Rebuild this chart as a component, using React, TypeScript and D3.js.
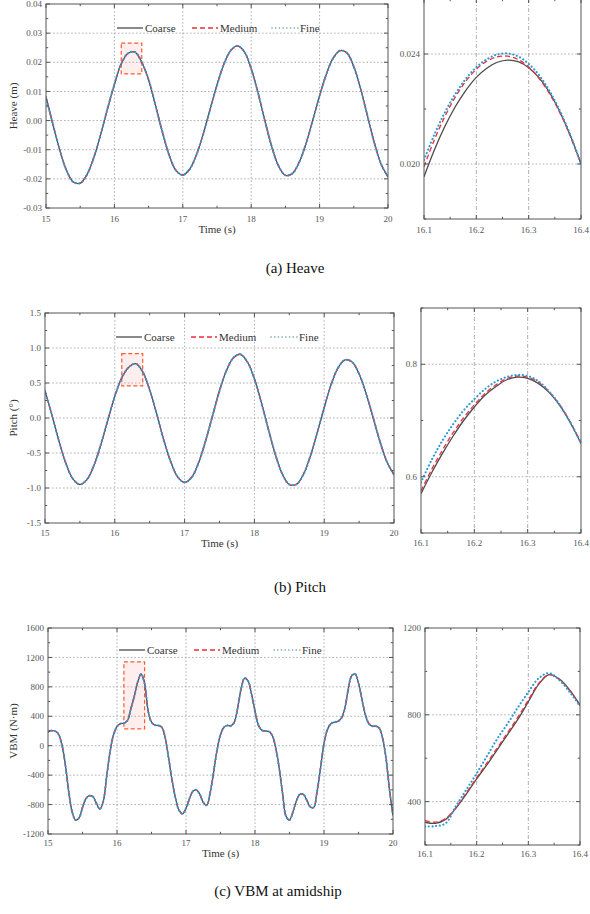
import React from "react";
import * as d3 from "d3";

const FONT = "'Liberation Serif','Times New Roman',serif";

// ---------------- data ----------------
const timeMain = [
  15.0, 15.1, 15.2, 15.3, 15.4, 15.5, 15.6, 15.7, 15.8, 15.9,
  16.0, 16.1, 16.2, 16.3, 16.4, 16.5, 16.6, 16.7, 16.8, 16.9,
  17.0, 17.1, 17.2, 17.3, 17.4, 17.5, 17.6, 17.7, 17.8, 17.9,
  18.0, 18.1, 18.2, 18.3, 18.4, 18.5, 18.6, 18.7, 18.8, 18.9,
  19.0, 19.1, 19.2, 19.3, 19.4, 19.5, 19.6, 19.7, 19.8, 19.9, 20.0,
];

const heaveCoarse = [
  0.0081, -0.0012, -0.0100, -0.0171, -0.0211, -0.0215, -0.0185, -0.0126, -0.0047, 0.0041,
  0.0124, 0.0195, 0.0231, 0.0235, 0.0200, 0.0140, 0.0053, -0.0038, -0.0118, -0.0171,
  -0.0187, -0.0167, -0.0117, -0.0045, 0.0039, 0.0122, 0.0193, 0.0240, 0.0256, 0.0236,
  0.0178, 0.0095, 0.0000, -0.0089, -0.0156, -0.0188, -0.0182, -0.0144, -0.0080, 0.0001,
  0.0085, 0.0160, 0.0215, 0.0240, 0.0232, 0.0185, 0.0109, 0.0016, -0.0076, -0.0150, -0.0193,
];

const pitchCoarse = [
  0.39, 0.04, -0.33, -0.65, -0.87, -0.95, -0.88, -0.68, -0.38, -0.03,
  0.31, 0.575, 0.725, 0.776, 0.659, 0.40, 0.06, -0.31, -0.62, -0.84,
  -0.92, -0.85, -0.64, -0.33, 0.03, 0.39, 0.68, 0.86, 0.91, 0.80,
  0.56, 0.22, -0.16, -0.52, -0.80, -0.95, -0.95, -0.81, -0.55, -0.21,
  0.15, 0.48, 0.72, 0.83, 0.80, 0.63, 0.35, 0.01, -0.34, -0.63, -0.81,
];

const timeVBM = [
  15.0, 15.05, 15.1, 15.15, 15.2, 15.25, 15.3, 15.35, 15.4, 15.45,
  15.5, 15.55, 15.6, 15.65, 15.7, 15.75, 15.8, 15.85, 15.9, 15.95,
  16.0, 16.05, 16.1, 16.15, 16.2, 16.25, 16.3, 16.35, 16.4, 16.45,
  16.5, 16.55, 16.6, 16.65, 16.7, 16.75, 16.8, 16.85, 16.9, 16.95,
  17.0, 17.05, 17.1, 17.15, 17.2, 17.25, 17.3, 17.35, 17.4, 17.45,
  17.5, 17.55, 17.6, 17.65, 17.7, 17.75, 17.8, 17.85, 17.9, 17.95,
  18.0, 18.05, 18.1, 18.15, 18.2, 18.25, 18.3, 18.35, 18.4, 18.45,
  18.5, 18.55, 18.6, 18.65, 18.7, 18.75, 18.8, 18.85, 18.9, 18.95,
  19.0, 19.05, 19.1, 19.15, 19.2, 19.25, 19.3, 19.35, 19.4, 19.45,
  19.5, 19.55, 19.6, 19.65, 19.7, 19.75, 19.8, 19.85, 19.9, 19.95, 20.0,
];

const vbmCoarse = [
  190, 205, 200, 160, 20, -250, -620, -900, -1010, -980,
  -840, -720, -680, -690, -780, -860, -760, -420, -80, 150,
  260, 300, 305, 340, 500, 670, 865, 975, 845, 480,
  320, 280, 275, 250, 100, -180, -480, -720, -880, -925,
  -850, -720, -620, -600, -660, -770, -810, -640, -360, -60,
  150, 250, 275, 270, 320, 520, 780, 920, 880, 700,
  470, 280, 210, 200, 195, 140, -30, -300, -650, -960,
  -1010, -900, -750, -660, -660, -740, -830, -840, -620, -300,
  30, 220, 300, 320, 330, 370, 500, 760, 950, 975,
  850, 630, 420, 300, 265, 265, 240, 100, -180, -600, -950,
];

const timeZoom = [
  16.1, 16.12, 16.14, 16.16, 16.18, 16.2, 16.22, 16.24,
  16.26, 16.28, 16.3, 16.32, 16.34, 16.36, 16.38, 16.4,
];

const heaveZoomCoarse = [
  0.01954, 0.02052, 0.02137, 0.02209, 0.02268, 0.02315, 0.02348, 0.0237,
  0.02378, 0.02372, 0.0235, 0.02313, 0.02259, 0.02188, 0.02102, 0.02,
];
const heaveZoomMedium = [
  0.0199, 0.02089, 0.02173, 0.02244, 0.02301, 0.02345, 0.02374, 0.0239,
  0.02392, 0.0238, 0.02353, 0.02311, 0.02255, 0.02185, 0.02099, 0.02,
];
const heaveZoomFine = [
  0.02015, 0.02108, 0.02188, 0.02255, 0.0231, 0.02352, 0.02381, 0.02398,
  0.02402, 0.02391, 0.02364, 0.02323, 0.02265, 0.02192, 0.02104, 0.02,
];

const pitchZoomCoarse = [
  0.57, 0.607, 0.641, 0.672, 0.7, 0.724, 0.745, 0.76,
  0.772, 0.777, 0.775, 0.766, 0.75, 0.727, 0.696, 0.659,
];
const pitchZoomMedium = [
  0.575, 0.613, 0.647, 0.678, 0.705, 0.728, 0.748, 0.763,
  0.774, 0.779, 0.777, 0.768, 0.751, 0.728, 0.697, 0.66,
];
const pitchZoomFine = [
  0.59, 0.63, 0.664, 0.693, 0.718, 0.738, 0.756, 0.769,
  0.777, 0.781, 0.779, 0.77, 0.752, 0.728, 0.697, 0.66,
];

const vbmZoomCoarse = [
  305, 300, 318, 370, 435, 505, 570, 640,
  710, 780, 860, 940, 985, 965, 915, 845,
];
const vbmZoomMedium = [
  312, 305, 322, 372, 440, 510, 578, 648,
  718, 790, 868, 945, 985, 962, 912, 842,
];
const vbmZoomFine = [
  285, 287, 300, 380, 455, 530, 610, 690,
  760, 835, 905, 968, 992, 960, 905, 840,
];

const mainXTicks = [15, 16, 17, 18, 19, 20];
const heaveYTicks = [-0.03, -0.02, -0.01, 0, 0.01, 0.02, 0.03, 0.04];
const pitchYTicks = [-1.5, -1.0, -0.5, 0, 0.5, 1.0, 1.5];
const vbmYTicks = [-1200, -800, -400, 0, 400, 800, 1200, 1600];
const zoomXTicks = [16.1, 16.2, 16.3, 16.4];
const heaveZoomYTicks = [0.02, 0.024];
const pitchZoomYTicks = [0.6, 0.8];
const vbmZoomYTicks = [400, 800, 1200];

const seriesNames = ["Coarse", "Medium", "Fine"];
const yTitles = ["Heave (m)", "Pitch (°)", "VBM (N·m)"];
const xTitle = "Time (s)";
const captions = ["(a) Heave", "(b) Pitch", "(c) VBM at amidship"];

// highlight boxes in the main panels: [t0, t1, v0, v1]
const heaveBox = [16.1, 16.4, 0.016, 0.0266];
const pitchBox = [16.1, 16.4, 0.46, 0.92];
const vbmBox = [16.1, 16.4, 230, 1140];

// ---------------- styles ----------------
const STYLES = [
  { stroke: "#4b4b4b", width: 1.3, dash: undefined as string | undefined, cap: "butt" },
  { stroke: "#ef2d3e", width: 1.3, dash: "5,3", cap: "butt" },
  { stroke: "#2a9bd0", width: 2.1, dash: "0.1,3.6", cap: "round" },
];

const fmt = (f: string) => (v: number) => d3.format(f)(v).replace("−", "-");

function Panel(p: any) {
  const x = d3.scaleLinear().domain(p.xDomain).range([p.left, p.right]);
  const y = d3.scaleLinear().domain(p.yDomain).range([p.bottom, p.top]);
  const line = d3
    .line<[number, number]>()
    .x((d) => x(d[0]))
    .y((d) => y(d[1]))
    .curve(d3.curveCatmullRom.alpha(0.5));

  const minorOf = (major: number[], dom: number[]) => {
    const half = (major[1] - major[0]) / 2;
    const out: number[] = [];
    const lo = Math.min(dom[0], dom[1]);
    const hi = Math.max(dom[0], dom[1]);
    for (let k = -60; k <= 60; k++) {
      const v = major[0] + k * half;
      if (v < lo - 1e-9 || v > hi + 1e-9) continue;
      if (major.some((m) => Math.abs(m - v) < half * 0.01)) continue;
      out.push(v);
    }
    return out;
  };
  const xMinor = minorOf(p.xMajor, p.xDomain);
  const yMinor = p.yMinorFrom ? minorOf(p.yMinorFrom, p.yDomain) : minorOf(p.yMajor, p.yDomain);
  const xAllMajor = p.xMajor;
  const yAllMajor = p.yMajor;
  const clipId = p.id + "-clip";
  const TL = 4;
  const TS = 2.2;
  const axisCol = "#555";
  const gridCol = "#9c9c9c";

  return (
    <g>
      <defs>
        <clipPath id={clipId}>
          <rect x={p.left} y={p.top} width={p.right - p.left} height={p.bottom - p.top} />
        </clipPath>
      </defs>
      {/* grid */}
      {p.xGrid.map((t: number) => (
        <line
          key={"gx" + t}
          x1={x(t)}
          x2={x(t)}
          y1={p.top}
          y2={p.bottom}
          stroke={gridCol}
          strokeWidth={0.8}
          strokeDasharray={p.gridDashX}
        />
      ))}
      {p.yGrid.map((v: number) => (
        <line
          key={"gy" + v}
          x1={p.left}
          x2={p.right}
          y1={y(v)}
          y2={y(v)}
          stroke={gridCol}
          strokeWidth={0.8}
          strokeDasharray={p.gridDashY}
        />
      ))}
      {/* highlight box */}
      {p.box && (
        <rect
          x={x(p.box[0])}
          y={y(p.box[3])}
          width={x(p.box[1]) - x(p.box[0])}
          height={y(p.box[2]) - y(p.box[3])}
          fill="rgba(255,160,160,0.18)"
          stroke="#ff5a2e"
          strokeWidth={1.2}
          strokeDasharray="4,2.5"
        />
      )}
      {/* series */}
      <g clipPath={`url(#${clipId})`}>
        {p.series.map((s: any, i: number) => {
          const st = STYLES[s.style];
          const pts = s.t.map((t: number, j: number) => [t, s.v[j]] as [number, number]);
          return (
            <path
              key={"s" + i}
              d={line(pts) || ""}
              fill="none"
              stroke={st.stroke}
              strokeWidth={st.width}
              strokeDasharray={st.dash}
              strokeLinecap={st.cap as any}
            />
          );
        })}
      </g>
      {/* frame */}
      <rect
        x={p.left}
        y={p.top}
        width={p.right - p.left}
        height={p.bottom - p.top}
        fill="none"
        stroke={axisCol}
        strokeWidth={1}
      />
      {/* ticks */}
      {xAllMajor.map((t: number) => (
        <g key={"xt" + t}>
          <line x1={x(t)} x2={x(t)} y1={p.bottom} y2={p.bottom - TL} stroke={axisCol} />
          <line x1={x(t)} x2={x(t)} y1={p.top} y2={p.top + TL} stroke={axisCol} />
        </g>
      ))}
      {xMinor.map((t: number) => (
        <g key={"xm" + t}>
          <line x1={x(t)} x2={x(t)} y1={p.bottom} y2={p.bottom - TS} stroke={axisCol} />
          <line x1={x(t)} x2={x(t)} y1={p.top} y2={p.top + TS} stroke={axisCol} />
        </g>
      ))}
      {yAllMajor.map((v: number) => (
        <g key={"yt" + v}>
          <line x1={p.left} x2={p.left + TL} y1={y(v)} y2={y(v)} stroke={axisCol} />
          <line x1={p.right} x2={p.right - TL} y1={y(v)} y2={y(v)} stroke={axisCol} />
        </g>
      ))}
      {yMinor.map((v: number) => (
        <g key={"ym" + v}>
          <line x1={p.left} x2={p.left + TS} y1={y(v)} y2={y(v)} stroke={axisCol} />
          <line x1={p.right} x2={p.right - TS} y1={y(v)} y2={y(v)} stroke={axisCol} />
        </g>
      ))}
      {/* tick labels */}
      {p.xMajor.map((t: number) => (
        <text
          key={"xl" + t}
          x={x(t)}
          y={p.bottom + p.xLabelDy}
          textAnchor="middle"
          fontFamily={FONT}
          fontSize={9}
          fill="#555"
        >
          {p.xFmt(t)}
        </text>
      ))}
      {p.yMajor.map((v: number) => (
        <text
          key={"yl" + v}
          x={p.left - 4}
          y={y(v)}
          dy="0.35em"
          textAnchor="end"
          fontFamily={FONT}
          fontSize={9}
          fill="#555"
        >
          {p.yFmt(v)}
        </text>
      ))}
      {p.xTitle && (
        <text
          x={(p.left + p.right) / 2}
          y={p.bottom + p.xTitleDy}
          textAnchor="middle"
          fontFamily={FONT}
          fontSize={11}
          fill="#333"
        >
          {p.xTitle}
        </text>
      )}
      {p.yTitle && (
        <text
          transform={`translate(${p.yTitleX},${(p.top + p.bottom) / 2}) rotate(-90)`}
          textAnchor="middle"
          dy="0.35em"
          fontFamily={FONT}
          fontSize={11}
          fill="#333"
        >
          {p.yTitle}
        </text>
      )}
      {/* legend */}
      {p.legend && (
        <g transform={`translate(${p.left},${p.top + p.legendDy})`}>
          {seriesNames.map((name, i) => {
            const st = STYLES[i];
            const ox = [71, 146, 226][i];
            return (
              <g key={name} transform={`translate(${ox},0)`}>
                <line
                  x1={0}
                  x2={26}
                  y1={0}
                  y2={0}
                  stroke={i === 2 ? "#6f9fae" : st.stroke}
                  strokeWidth={i === 2 ? 1.6 : st.width}
                  strokeDasharray={st.dash}
                  strokeLinecap={st.cap as any}
                />
                <text x={28} y={0} dy="0.35em" fontFamily={FONT} fontSize={11} fill="#333">
                  {name}
                </text>
              </g>
            );
          })}
        </g>
      )}
    </g>
  );
}

export default function App() {
  const mainSeries = (t: number[], v: number[]) => [
    { t, v, style: 0 },
    { t, v, style: 1 },
    { t, v, style: 2 },
  ];
  const zoomSeries = (c: number[], m: number[], f: number[]) => [
    { t: timeZoom, v: c, style: 0 },
    { t: timeZoom, v: m, style: 1 },
    { t: timeZoom, v: f, style: 2 },
  ];
  const interior = (arr: number[]) => arr.slice(1, -1);
  const dashDot = "4,2,1,2";
  const dotted = "1.6,2";

  return (
    <svg
      width={590}
      height={914}
      style={{ position: "absolute", left: 0, top: 0, background: "#fff" }}
    >
      <rect x={0} y={0} width={590} height={914} fill="#fff" />
      {/* (a) Heave */}
      <Panel
        id="a1"
        left={46}
        right={388}
        top={4}
        bottom={208}
        xDomain={[15, 20]}
        yDomain={[-0.03, 0.04]}
        xMajor={mainXTicks}
        yMajor={heaveYTicks}
        xFmt={fmt("d")}
        yFmt={fmt(".2f")}
        xGrid={interior(mainXTicks)}
        yGrid={interior(heaveYTicks)}
        gridDashX={dotted}
        gridDashY={dotted}
        series={mainSeries(timeMain, heaveCoarse)}
        box={heaveBox}
        xLabelDy={14}
        xTitle={xTitle}
        xTitleDy={25}
        yTitle={yTitles[0]}
        yTitleX={13}
        legend
        legendDy={24}
      />
      <Panel
        id="a2"
        left={424}
        right={581}
        top={-1}
        bottom={219}
        xDomain={[16.1, 16.4]}
        yDomain={[0.018, 0.026]}
        xMajor={zoomXTicks}
        yMajor={heaveZoomYTicks}
        xFmt={fmt(".1f")}
        yFmt={fmt(".3f")}
        xGrid={interior(zoomXTicks)}
        yGrid={heaveZoomYTicks}
        gridDashX={dashDot}
        gridDashY={dotted}
        series={zoomSeries(heaveZoomCoarse, heaveZoomMedium, heaveZoomFine)}
        xLabelDy={14}
      />
      <text x={295} y={273} textAnchor="middle" fontFamily={FONT} fontSize={15} fill="#111">
        {captions[0]}
      </text>

      {/* (b) Pitch */}
      <Panel
        id="b1"
        left={45}
        right={394}
        top={313}
        bottom={523}
        xDomain={[15, 20]}
        yDomain={[-1.5, 1.5]}
        xMajor={mainXTicks}
        yMajor={pitchYTicks}
        xFmt={fmt("d")}
        yFmt={fmt(".1f")}
        xGrid={interior(mainXTicks)}
        yGrid={interior(pitchYTicks)}
        gridDashX={dotted}
        gridDashY={dotted}
        series={mainSeries(timeMain, pitchCoarse)}
        box={pitchBox}
        xLabelDy={13}
        xTitle={xTitle}
        xTitleDy={24}
        yTitle={yTitles[1]}
        yTitleX={13}
        legend
        legendDy={24}
      />
      <Panel
        id="b2"
        left={421}
        right={581}
        top={308}
        bottom={533}
        xDomain={[16.1, 16.4]}
        yDomain={[0.5, 0.9]}
        xMajor={zoomXTicks}
        yMajor={pitchZoomYTicks}
        xFmt={fmt(".1f")}
        yFmt={fmt(".1f")}
        xGrid={interior(zoomXTicks)}
        yGrid={pitchZoomYTicks}
        gridDashX={dashDot}
        gridDashY={dotted}
        series={zoomSeries(pitchZoomCoarse, pitchZoomMedium, pitchZoomFine)}
        xLabelDy={13}
      />
      <text x={300} y={592} textAnchor="middle" fontFamily={FONT} fontSize={15} fill="#111">
        {captions[1]}
      </text>

      {/* (c) VBM */}
      <Panel
        id="c1"
        left={48}
        right={393}
        top={628}
        bottom={834}
        xDomain={[15, 20]}
        yDomain={[-1200, 1600]}
        xMajor={mainXTicks}
        yMajor={vbmYTicks}
        xFmt={fmt("d")}
        yFmt={fmt("d")}
        xGrid={interior(mainXTicks)}
        yGrid={interior(vbmYTicks)}
        gridDashX={dotted}
        gridDashY={dotted}
        series={mainSeries(timeVBM, vbmCoarse)}
        box={vbmBox}
        xLabelDy={12}
        xTitle={xTitle}
        xTitleDy={23}
        yTitle={yTitles[2]}
        yTitleX={13}
        legend
        legendDy={22}
      />
      <Panel
        id="c2"
        left={425}
        right={580}
        top={628}
        bottom={845}
        xDomain={[16.1, 16.4]}
        yDomain={[200, 1200]}
        xMajor={zoomXTicks}
        yMajor={vbmZoomYTicks}
        xFmt={fmt(".1f")}
        yFmt={fmt("d")}
        xGrid={interior(zoomXTicks)}
        yGrid={vbmZoomYTicks.slice(0, 2)}
        gridDashX={dashDot}
        gridDashY={dotted}
        series={zoomSeries(vbmZoomCoarse, vbmZoomMedium, vbmZoomFine)}
        xLabelDy={12}
      />
      <text x={278} y={896} textAnchor="middle" fontFamily={FONT} fontSize={15} fill="#111">
        {captions[2]}
      </text>
    </svg>
  );
}
